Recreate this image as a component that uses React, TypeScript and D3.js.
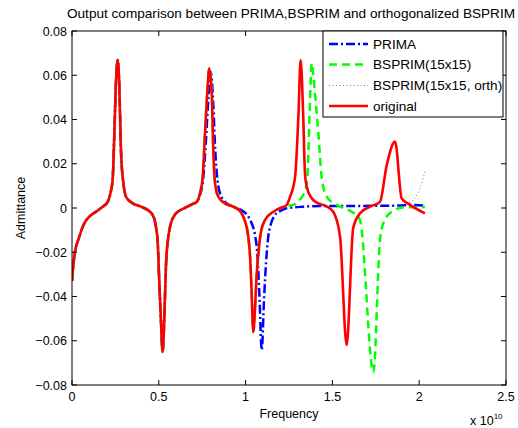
import React from "react";
import * as d3 from "d3";

// ---------- data (frequency in units of 1e10, admittance) ----------
const xTicks = [0, 0.5, 1, 1.5, 2, 2.5];
const yTicks = [-0.08, -0.06, -0.04, -0.02, 0, 0.02, 0.04, 0.06, 0.08];
const xTickLabels = ["0", "0.5", "1", "1.5", "2", "2.5"];
const yTickLabels = ["\u22120.08", "\u22120.06", "\u22120.04", "\u22120.02", "0", "0.02", "0.04", "0.06", "0.08"];

const originalFreq = [0, 0.013, 0.042, 0.071, 0.1, 0.138, 0.177, 0.206, 0.221, 0.234, 0.244, 0.253, 0.263, 0.272, 0.282, 0.296, 0.311, 0.35, 0.397, 0.436, 0.465, 0.48, 0.494, 0.503, 0.513, 0.522, 0.532, 0.541, 0.555, 0.57, 0.599, 0.647, 0.695, 0.72, 0.737, 0.753, 0.766, 0.779, 0.791, 0.805, 0.814, 0.824, 0.843, 0.881, 0.929, 0.968, 0.994, 1.014, 1.027, 1.035, 1.044, 1.054, 1.062, 1.073, 1.087, 1.112, 1.16, 1.198, 1.237, 1.256, 1.285, 1.304, 1.317, 1.332, 1.342, 1.352, 1.381, 1.419, 1.463, 1.505, 1.544, 1.582, 1.62, 1.659, 1.717, 1.774, 1.813, 1.861, 1.899, 1.947, 2.033];
const originalVal = [-0.033, -0.022, -0.013, -0.0069, -0.0039, -0.0017, 0.0006, 0.0028, 0.0066, 0.0127, 0.0338, 0.0564, 0.0669, 0.0564, 0.0262, 0.0112, 0.0051, 0.0021, 0.0006, -0.0009, -0.0032, -0.0069, -0.016, -0.034, -0.0521, -0.0651, -0.0491, -0.0265, -0.013, -0.0069, -0.0024, -0.0001, 0.0018, 0.0029, 0.0066, 0.0141, 0.0338, 0.0518, 0.0631, 0.0518, 0.0262, 0.0112, 0.0051, 0.0021, 0.0006, -0.0014, -0.0054, -0.0122, -0.0235, -0.0386, -0.056, -0.0461, -0.0325, -0.0212, -0.0114, -0.0054, -0.0017, -0.0001, 0.0014, 0.005, 0.0141, 0.0413, 0.0669, 0.0413, 0.0157, 0.0096, 0.0044, 0.0021, 0.0009, -0.0017, -0.013, -0.0619, -0.009, -0.0024, 0.0006, 0.0028, 0.0194, 0.03, 0.0044, 0.0014, -0.0024];

const primaFreq = [0, 0.013, 0.042, 0.071, 0.1, 0.138, 0.177, 0.206, 0.221, 0.234, 0.244, 0.253, 0.263, 0.272, 0.282, 0.296, 0.311, 0.35, 0.397, 0.436, 0.465, 0.48, 0.494, 0.503, 0.513, 0.522, 0.532, 0.541, 0.555, 0.57, 0.599, 0.647, 0.695, 0.72, 0.737, 0.755, 0.77, 0.785, 0.799, 0.814, 0.825, 0.838, 0.853, 0.891, 0.929, 0.974, 1.016, 1.035, 1.054, 1.068, 1.079, 1.093, 1.106, 1.118, 1.131, 1.146, 1.169, 1.198, 1.237, 1.332, 1.429, 1.601, 1.774, 1.889, 1.947, 2.033];
const primaVal = [-0.033, -0.022, -0.013, -0.0069, -0.0039, -0.0017, 0.0006, 0.0028, 0.0066, 0.0127, 0.0338, 0.0564, 0.0669, 0.0564, 0.0262, 0.0112, 0.0051, 0.0021, 0.0006, -0.0009, -0.0032, -0.0069, -0.016, -0.034, -0.0521, -0.0651, -0.0491, -0.0265, -0.013, -0.0069, -0.0024, -0.0001, 0.0018, 0.0029, 0.0059, 0.0127, 0.0285, 0.0488, 0.0615, 0.0466, 0.0262, 0.0127, 0.0066, 0.0021, 0.0006, -0.0009, -0.0039, -0.0069, -0.0122, -0.0212, -0.0386, -0.0642, -0.0416, -0.0244, -0.0127, -0.0072, -0.0032, -0.0014, -0.0001, 0.0006, 0.0009, 0.0009, 0.001, 0.0011, 0.0014, 0.0011];

const bsprimFreq = [0, 0.013, 0.042, 0.071, 0.1, 0.138, 0.177, 0.206, 0.221, 0.234, 0.244, 0.253, 0.263, 0.272, 0.282, 0.296, 0.311, 0.35, 0.397, 0.436, 0.465, 0.48, 0.494, 0.503, 0.513, 0.522, 0.532, 0.541, 0.555, 0.57, 0.599, 0.647, 0.695, 0.72, 0.737, 0.753, 0.766, 0.779, 0.791, 0.805, 0.814, 0.824, 0.843, 0.881, 0.929, 0.968, 0.994, 1.014, 1.027, 1.035, 1.044, 1.054, 1.062, 1.073, 1.087, 1.112, 1.16, 1.198, 1.237, 1.275, 1.324, 1.343, 1.355, 1.362, 1.371, 1.381, 1.39, 1.403, 1.419, 1.438, 1.467, 1.525, 1.592, 1.63, 1.659, 1.736, 1.774, 1.793, 1.842, 1.908, 2.033];
const bsprimVal = [-0.033, -0.022, -0.013, -0.0069, -0.0039, -0.0017, 0.0006, 0.0028, 0.0066, 0.0127, 0.0338, 0.0564, 0.0669, 0.0564, 0.0262, 0.0112, 0.0051, 0.0021, 0.0006, -0.0009, -0.0032, -0.0069, -0.016, -0.034, -0.0521, -0.0651, -0.0491, -0.0265, -0.013, -0.0069, -0.0024, -0.0001, 0.0018, 0.0029, 0.0066, 0.0141, 0.0338, 0.0518, 0.0631, 0.0518, 0.0262, 0.0112, 0.0051, 0.0021, 0.0006, -0.0014, -0.0054, -0.0122, -0.0235, -0.0386, -0.056, -0.0461, -0.0325, -0.0212, -0.0114, -0.0054, -0.0017, -0.0001, 0.0009, 0.0014, 0.005, 0.0081, 0.0127, 0.0262, 0.0488, 0.0655, 0.0601, 0.0488, 0.0338, 0.0141, 0.0051, 0.0014, -0.0009, -0.0027, -0.0054, -0.0741, -0.0145, -0.0069, -0.0017, 0.0002, 0.0005];

const orthFreq = [0, 0.013, 0.042, 0.071, 0.1, 0.138, 0.177, 0.206, 0.221, 0.234, 0.244, 0.253, 0.263, 0.272, 0.282, 0.296, 0.311, 0.35, 0.397, 0.436, 0.465, 0.48, 0.494, 0.503, 0.513, 0.522, 0.532, 0.541, 0.555, 0.57, 0.599, 0.647, 0.695, 0.72, 0.737, 0.753, 0.766, 0.779, 0.791, 0.805, 0.814, 0.824, 0.843, 0.881, 0.929, 0.968, 0.994, 1.014, 1.027, 1.035, 1.044, 1.054, 1.062, 1.073, 1.087, 1.112, 1.16, 1.198, 1.237, 1.256, 1.285, 1.304, 1.317, 1.332, 1.342, 1.352, 1.381, 1.419, 1.463, 1.505, 1.544, 1.582, 1.62, 1.659, 1.717, 1.774, 1.813, 1.861, 1.899, 1.918, 1.966, 1.99, 2.005, 2.033];
const orthVal = [-0.033, -0.022, -0.013, -0.0069, -0.0039, -0.0017, 0.0006, 0.0028, 0.0066, 0.0127, 0.0338, 0.0564, 0.0669, 0.0564, 0.0262, 0.0112, 0.0051, 0.0021, 0.0006, -0.0009, -0.0032, -0.0069, -0.016, -0.034, -0.0521, -0.0651, -0.0491, -0.0265, -0.013, -0.0069, -0.0024, -0.0001, 0.0018, 0.0029, 0.0066, 0.0141, 0.0338, 0.0518, 0.0631, 0.0518, 0.0262, 0.0112, 0.0051, 0.0021, 0.0006, -0.0014, -0.0054, -0.0122, -0.0235, -0.0386, -0.056, -0.0461, -0.0325, -0.0212, -0.0114, -0.0054, -0.0017, -0.0001, 0.0014, 0.005, 0.0141, 0.0413, 0.0669, 0.0413, 0.0157, 0.0096, 0.0044, 0.0021, 0.0009, -0.0017, -0.013, -0.0615, -0.0085, -0.002, 0.0008, 0.003, 0.0194, 0.03, 0.0044, 0.0023, 0.0036, 0.0065, 0.009, 0.0164];

const legendLabels = ["PRIMA", "BSPRIM(15x15)", "BSPRIM(15x15, orth)", "original"];

// ---------- layout ----------
const W = 518, H = 428;
const L = 72, R = 506, T = 31, B = 385;
const FONT = "'Liberation Sans', Arial, Helvetica, sans-serif";

const styles = [
  { color: "#0000ff", width: 2.5, dash: "9,3,2,3" },
  { color: "#00ff00", width: 2.5, dash: "8,5" },
  { color: "#808080", width: 1, dash: "1,2.5" },
  { color: "#ff0000", width: 2.6, dash: "" },
];

export default function App() {
  const x = d3.scaleLinear().domain([0, 2.5]).range([L, R]);
  const y = d3.scaleLinear().domain([-0.08, 0.08]).range([B, T]);
  const line = d3
    .line<[number, number]>()
    .x((d) => x(d[0]))
    .y((d) => y(d[1]))
    .curve(d3.curveMonotoneX);
  const series: [number[], number[]][] = [
    [primaFreq, primaVal],
    [bsprimFreq, bsprimVal],
    [orthFreq, orthVal],
    [originalFreq, originalVal],
  ];
  const tl = 5;
  const legX = 323, legY = 31, legW = 180, legH = 86;
  const rowY = [44, 64.5, 85.5, 106];

  return (
    <svg width={W} height={H} style={{ position: "absolute", left: 0, top: 0, background: "#fff" }} fontFamily={FONT}>
      <rect x={0} y={0} width={W} height={H} fill="#fff" />
      <text x={291} y={18} textAnchor="middle" fontSize={13.6} fill="#000">
        Output comparison between PRIMA,BSPRIM and orthogonalized BSPRIM
      </text>
      <clipPath id="clip">
        <rect x={L} y={T} width={R - L} height={B - T} />
      </clipPath>
      <g clipPath="url(#clip)">
        {series.map(([fx, fy], i) => (
          <path
            key={i}
            d={line(fx.map((f, j) => [f, fy[j]] as [number, number])) || ""}
            fill="none"
            stroke={styles[i].color}
            strokeWidth={styles[i].width}
            strokeDasharray={styles[i].dash || undefined}
            strokeLinejoin="round"
          />
        ))}
      </g>
      {/* box */}
      <rect x={L} y={T} width={R - L} height={B - T} fill="none" stroke="#000" strokeWidth={1} />
      {xTicks.map((t, i) => (
        <g key={"x" + i}>
          <line x1={x(t)} x2={x(t)} y1={B} y2={B - tl} stroke="#000" />
          <line x1={x(t)} x2={x(t)} y1={T} y2={T + tl} stroke="#000" />
          <text x={x(t)} y={B + 16} textAnchor="middle" fontSize={12.5}>{xTickLabels[i]}</text>
        </g>
      ))}
      {yTicks.map((t, i) => (
        <g key={"y" + i}>
          <line x1={L} x2={L + tl} y1={y(t)} y2={y(t)} stroke="#000" />
          <line x1={R} x2={R - tl} y1={y(t)} y2={y(t)} stroke="#000" />
          <text x={L - 5} y={y(t) + 4.5} textAnchor="end" fontSize={12.5}>{yTickLabels[i]}</text>
        </g>
      ))}
      <text x={(L + R) / 2} y={B + 33} textAnchor="middle" fontSize={12.5}>Frequency</text>
      <text x={470} y={425} fontSize={12.5}>
        x 10<tspan dy={-6} fontSize={8}>10</tspan>
      </text>
      <text transform={`translate(25,${(T + B) / 2}) rotate(-90)`} textAnchor="middle" fontSize={12.5}>Admittance</text>
      {/* legend */}
      <rect x={legX} y={legY} width={legW} height={legH} fill="#fff" stroke="#000" strokeWidth={1} />
      {legendLabels.map((lab, i) => (
        <g key={"l" + i}>
          <line x1={329} x2={368} y1={rowY[i]} y2={rowY[i]} stroke={styles[i].color} strokeWidth={styles[i].width} strokeDasharray={styles[i].dash || undefined} />
          <text x={373} y={rowY[i] + 4.5} fontSize={13.6}>{lab}</text>
        </g>
      ))}
    </svg>
  );
}
